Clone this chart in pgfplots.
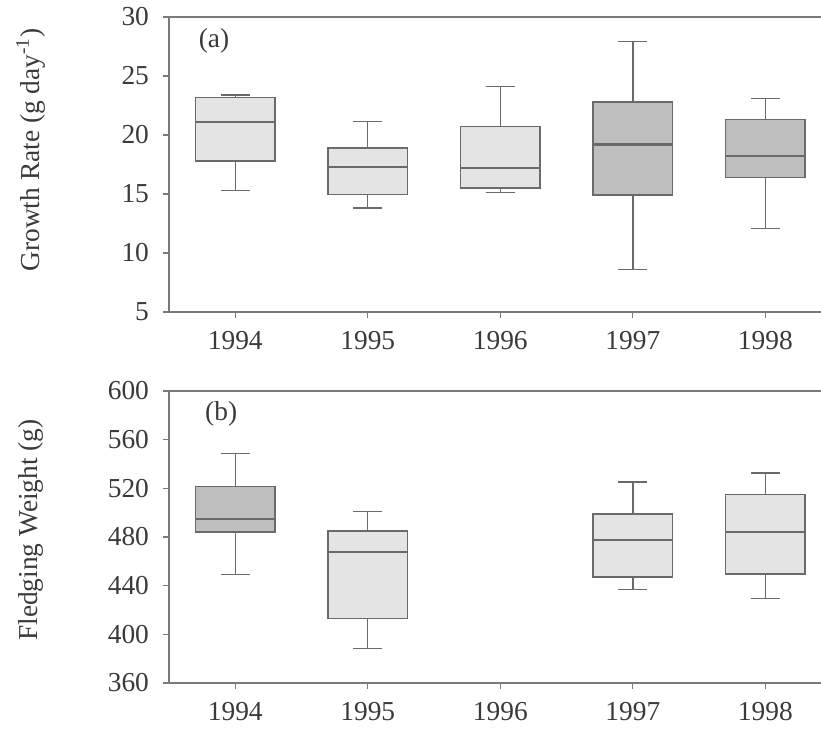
\documentclass[border=0pt]{standalone}
\usepackage{fontspec}
\setmainfont{Liberation Serif}
\usepackage{pgfplots}
\pgfplotsset{compat=1.18}
\usepgfplotslibrary{statistics}
\definecolor{lightfill}{HTML}{E4E4E4}
\definecolor{darkfill}{HTML}{BEBEBE}
\definecolor{linegray}{HTML}{6A6A6A}
\definecolor{axisgray}{HTML}{7A7A7A}
\definecolor{txt}{HTML}{3A3A3A}
\newcommand{\fs}{\fontsize{13.7pt}{16pt}\selectfont}
\pgfplotsset{
  panel/.style={
    scale only axis,
    width=326pt,
    xmin=-0.5, xmax=4.42,
    axis x line=box,
    axis y line=left,
    y axis line style={-},
    axis line style={axisgray, line width=0.6pt},
    tick style={axisgray, line width=0.6pt},
    major tick length=3pt,
    tick align=outside,
    xtick pos=bottom,
    xtick={0,1,2,3,4},
    xticklabels={1994,1995,1996,1997,1998},
    /pgf/number format/assume math mode=true,
    ticklabel style={font=\fs, text=txt},
    label style={font=\fs, text=txt},
    yticklabel style={xshift=-3.5pt},
    xticklabel style={yshift=-3pt},
    clip=false,
  },
  bx/.style={draw=linegray, line width=0.7pt, solid,
    boxplot/draw direction=y,
    boxplot/box extend=0.6, boxplot/whisker extend=0.22,
    boxplot/every median/.style={line width=1.1pt}},
}
\begin{document}
\begin{tikzpicture}
\useasboundingbox (0,0) rectangle (410.5pt,367pt);
% (a)
\begin{axis}[panel,
  at={(84.5pt,211pt)}, anchor=south west,
  height=147.5pt,
  ymin=5, ymax=30, ytick={5,10,15,20,25,30},
  ylabel={Growth Rate (g day\textsuperscript{-1})},
  ylabel style={at={(axis description cs:-0.212,0.549)}, anchor=center},
]
\addplot[bx, fill=lightfill, boxplot prepared={draw position=0,
  lower whisker=15.3, lower quartile=17.8, median=21.1, upper quartile=23.2, upper whisker=23.4}] table[row sep=\\,y index=0] {\\};
\addplot[bx, fill=lightfill, boxplot prepared={draw position=1,
  lower whisker=13.8, lower quartile=14.95, median=17.3, upper quartile=18.9, upper whisker=21.15}] table[row sep=\\,y index=0] {\\};
\addplot[bx, fill=lightfill, boxplot prepared={draw position=2,
  lower whisker=15.15, lower quartile=15.5, median=17.2, upper quartile=20.7, upper whisker=24.1}] table[row sep=\\,y index=0] {\\};
\addplot[bx, fill=darkfill, boxplot prepared={draw position=3,
  lower whisker=8.6, lower quartile=14.9, median=19.2, upper quartile=22.8, upper whisker=27.9}] table[row sep=\\,y index=0] {\\};
\addplot[bx, fill=darkfill, boxplot prepared={draw position=4,
  lower whisker=12.1, lower quartile=16.4, median=18.2, upper quartile=21.3, upper whisker=23.1}] table[row sep=\\,y index=0] {\\};
\node[font=\fs, text=txt] at (axis description cs:0.069,0.919) {(a)};
\end{axis}
% (b)
\begin{axis}[panel,
  at={(84.5pt,25.5pt)}, anchor=south west,
  height=146pt,
  ymin=360, ymax=600, ytick={360,400,440,480,520,560,600},
  ylabel={Fledging Weight (g)},
  ylabel style={at={(axis description cs:-0.212,0.524)}, anchor=center},
]
\addplot[bx, fill=darkfill, boxplot prepared={draw position=0,
  lower whisker=449, lower quartile=484, median=495, upper quartile=521.5, upper whisker=548.7}] table[row sep=\\,y index=0] {\\};
\addplot[bx, fill=lightfill, boxplot prepared={draw position=1,
  lower whisker=388.5, lower quartile=413, median=467.5, upper quartile=485, upper whisker=501.2}] table[row sep=\\,y index=0] {\\};
\addplot[bx, fill=lightfill, boxplot prepared={draw position=3,
  lower whisker=436.8, lower quartile=447, median=477.7, upper quartile=498.8, upper whisker=525.1}] table[row sep=\\,y index=0] {\\};
\addplot[bx, fill=lightfill, boxplot prepared={draw position=4,
  lower whisker=429.4, lower quartile=449.5, median=484, upper quartile=514.7, upper whisker=532.5}] table[row sep=\\,y index=0] {\\};
\node[font=\fs, text=txt] at (axis description cs:0.08,0.921) {(b)};
\end{axis}
\end{tikzpicture}
\end{document}
